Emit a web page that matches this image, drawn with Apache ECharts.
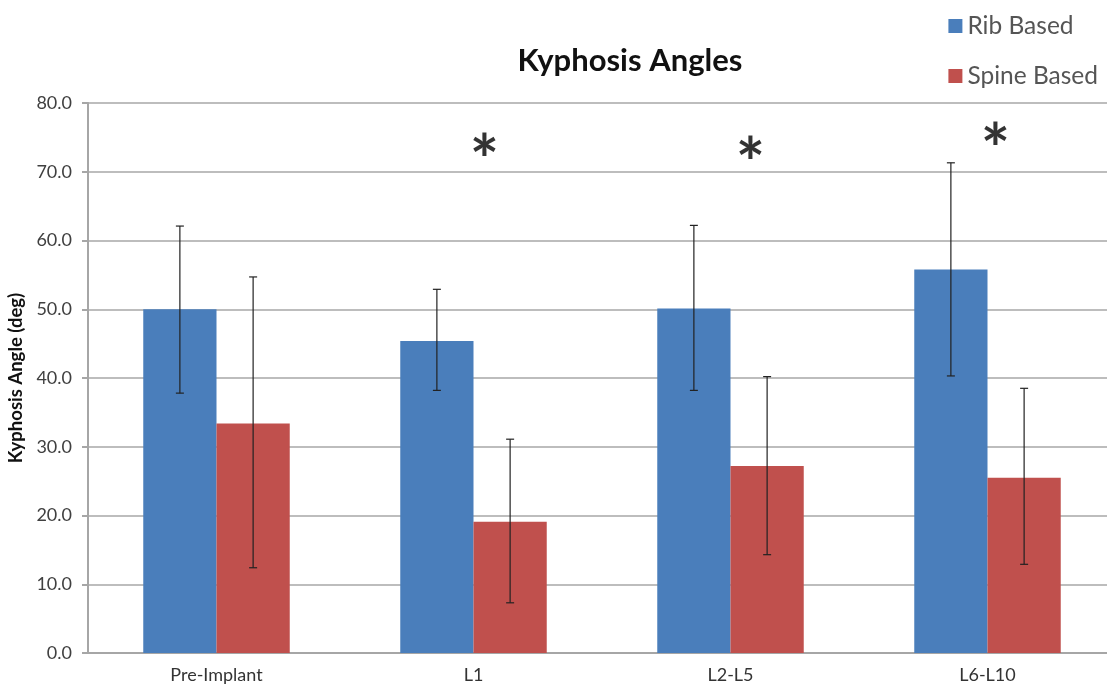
<!DOCTYPE html>
<html><head><meta charset="utf-8">
<script src="https://cdn.jsdelivr.net/npm/echarts@6/dist/echarts.min.js"></script>
<style>html,body{margin:0;padding:0;background:#fff}#c{width:1107px;height:686px}</style>
</head><body><div id="c"></div>
<script>
const categories = ['Pre-Implant', 'L1', 'L2-L5', 'L6-L10'];
const ribValues = [50.0, 45.4, 50.1, 55.8];
const ribLow = [37.8, 38.2, 38.2, 40.3];
const ribHigh = [62.1, 52.9, 62.2, 71.3];
const spineValues = [33.4, 19.1, 27.2, 25.5];
const spineLow = [12.4, 7.3, 14.3, 12.9];
const spineHigh = [54.7, 31.1, 40.2, 38.5];
const starCategories = ['L1', 'L2-L5', 'L6-L10'];
const starValues = [73.6, 73.2, 75.3];
const yTicks = [0, 10, 20, 30, 40, 50, 60, 70, 80];

const FONT = 'Lato, "Open Sans", sans-serif';
const GAP = 0.43;
function errSeries(low, high, side) {
  return {
    type: 'custom',
    silent: true,
    z: 5,
    data: categories.map((c, i) => [i, low[i], high[i]]),
    encode: { x: 0, y: [1, 2] },
    renderItem: function (params, api) {
      const band = api.size([1, 0])[0];
      const off = side * band * (1 - GAP) / 4;
      const lo = api.coord([api.value(0), api.value(1)]);
      const hi = api.coord([api.value(0), api.value(2)]);
      const x = lo[0] + off;
      const cap = 4;
      const st = { stroke: '#222', lineWidth: 1.2 };
      return { type: 'group', children: [
        { type: 'line', shape: { x1: x, y1: lo[1], x2: x, y2: hi[1] }, style: st },
        { type: 'line', shape: { x1: x - cap, y1: lo[1], x2: x + cap, y2: lo[1] }, style: st },
        { type: 'line', shape: { x1: x - cap, y1: hi[1], x2: x + cap, y2: hi[1] }, style: st }
      ]};
    }
  };
}
const starOffsets = [11, 20, 8];
const chart = echarts.init(document.getElementById('c'));
chart.setOption({
  animation: false,
  title: { text: 'Kyphosis Angles', left: 625, top: 40, textAlign: 'center',
    textStyle: { fontFamily: FONT, fontSize: 31, fontWeight: 'bold', color: '#111' } },
  legend: {
    data: ['Rib Based', 'Spine Based'], orient: 'vertical', right: 4, top: 7,
    itemGap: 22, itemWidth: 14, itemHeight: 14, icon: 'rect',
    textStyle: { fontFamily: FONT, fontSize: 24.5, lineHeight: 28, color: '#555' }
  },
  grid: { left: 88, width: 1028, top: 103, bottom: 33, outerBoundsMode: 'none', containLabel: false },
  xAxis: {
    type: 'category', data: categories,
    axisLine: { lineStyle: { color: '#a6a6a6', width: 2 } },
    axisTick: { show: false },
    axisLabel: { fontFamily: FONT, fontSize: 18, color: '#333', margin: 13 }
  },
  yAxis: {
    type: 'value', min: 0, max: 80, interval: 10,
    name: 'Kyphosis Angle (deg)', nameLocation: 'middle', nameGap: 55,
    nameTextStyle: { fontFamily: FONT, fontSize: 18.5, fontWeight: 'bold', color: '#111' },
    axisLine: { show: true, lineStyle: { color: '#a6a6a6', width: 2 } },
    axisTick: { show: true, length: 6, lineStyle: { color: '#a6a6a6', width: 2 } },
    splitLine: { lineStyle: { color: '#bdbdbd', width: 2 } },
    axisLabel: { fontFamily: FONT, fontSize: 18, color: '#404040', margin: 16,
      formatter: v => yTicks.includes(v) ? v.toFixed(1) : '' }
  },
  series: [
    { name: 'Rib Based', type: 'bar', data: ribValues, barGap: '0%', barCategoryGap: '43%',
      itemStyle: { color: '#4a7ebb' } },
    { name: 'Spine Based', type: 'bar', data: spineValues, barGap: '0%', barCategoryGap: '43%',
      itemStyle: { color: '#c0504d' } },
    errSeries(ribLow, ribHigh, -1),
    errSeries(spineLow, spineHigh, 1),
    { type: 'scatter', symbolSize: 0, silent: true,
      data: starCategories.map((c, i) => ({ value: [c, starValues[i]],
        label: { offset: [starOffsets[i], 16] } })),
      label: { show: true, formatter: '*', position: 'inside', fontFamily: FONT,
        fontSize: 69, fontWeight: 'bold', color: '#000' } }
  ]
});
</script></body></html>
